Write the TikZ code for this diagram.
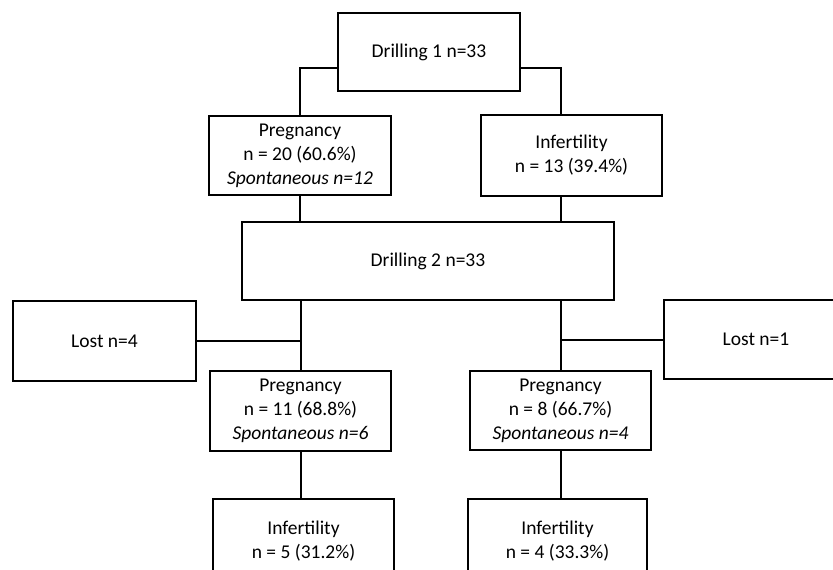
\documentclass[tikz,border=0pt]{standalone}
\usepackage{fontspec}
\setmainfont{Carlito}
\begin{document}
\begin{tikzpicture}[x=1pt,y=-1pt,
  box/.style={draw=black, line width=2pt, rectangle, align=center, inner sep=0pt,
    font=\fontsize{19.5}{24}\selectfont},
  conn/.style={draw=black, line width=2pt}]
\useasboundingbox (0,0) rectangle (833,570);
\clip (0,0) rectangle (833,570);
\node[box, minimum width=182pt, minimum height=78pt] (d1) at (429,52) {Drilling 1 n=33};
\node[box, minimum width=182pt, minimum height=79pt] (p1) at (300,155.5) {Pregnancy\\n = 20 (60.6\%)\\\textit{Spontaneous n=12}};
\node[box, minimum width=181pt, minimum height=81pt] (i1) at (571.5,155.5) {Infertility\\n = 13 (39.4\%)};
\node[box, minimum width=372pt, minimum height=78pt] (d2) at (428,261) {Drilling 2 n=33};
\node[box, minimum width=183pt, minimum height=80pt] (l4) at (104.5,341) {Lost n=4};
\node[box, minimum width=184pt, minimum height=79pt] (l1) at (756,339.5) {Lost n=1};
\node[box, minimum width=181pt, minimum height=80pt] (p2) at (300.5,411) {Pregnancy\\n = 11 (68.8\%)\\\textit{Spontaneous n=6}};
\node[box, minimum width=181pt, minimum height=79pt] (p3) at (560.5,410.5) {Pregnancy\\n = 8 (66.7\%)\\\textit{Spontaneous n=4}};
\node[box, minimum width=181pt, minimum height=84pt] (i2) at (303.5,541) {Infertility\\n = 5 (31.2\%)};
\node[box, minimum width=179pt, minimum height=84pt] (i3) at (557.5,541) {Infertility\\n = 4 (33.3\%)};
\draw[conn] ([yshift=-16pt]d1.west) -| (p1.north);
\draw[conn] ([yshift=-16pt]d1.east) -| (p3 |- i1.north);
\draw[conn] (p1.south) -- (p1.south |- d2.north);
\draw[conn] (p3 |- i1.south) -- (p3 |- d2.north);
\draw[conn] (p2 |- d2.south) -- (p2.north);
\draw[conn] (l4.east) -- (l4.east -| p2);
\draw[conn] (p3 |- d2.south) -- (p3.north);
\draw[conn] (l1.west) -- (l1.west -| p3);
\draw[conn] (p2.south) -- (p2.south |- i2.north);
\draw[conn] (p3.south) -- (p3.south |- i3.north);
\end{tikzpicture}
\end{document}
